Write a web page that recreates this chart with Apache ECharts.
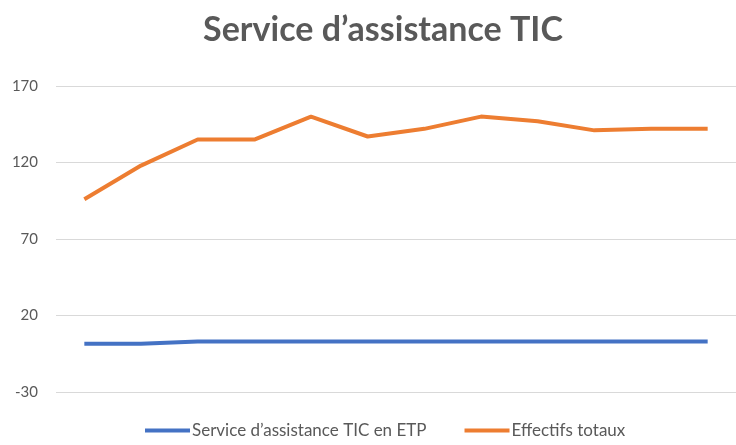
<!DOCTYPE html>
<html>
<head>
<meta charset="utf-8">
<script src="https://cdn.jsdelivr.net/npm/echarts@6/dist/echarts.min.js"></script>
<style>
html,body{margin:0;padding:0;background:#fff;}
#chart{width:736px;height:445px;}
</style>
</head>
<body>
<div id="chart"></div>
<script>
const categories = ['1','2','3','4','5','6','7','8','9','10','11','12'];
const serviceTIC = [1.5, 1.5, 3, 3, 3, 3, 3, 3, 3, 3, 3, 3];
const effectifs = [96, 118, 135, 135, 150, 137, 142, 150, 147, 141, 142, 142];
const seriesNames = ['Service d’assistance TIC en ETP', 'Effectifs totaux'];
const titleText = 'Service d’assistance TIC';

const chart = echarts.init(document.getElementById('chart'));
const font = 'Lato';
chart.setOption({
  animation: false,
  title: {
    text: titleText,
    left: 378,
    textAlign: 'center',
    top: 8,
    textStyle: { fontFamily: font, fontSize: 34, fontWeight: 'bold', color: '#595959' }
  },
  legend: {
    bottom: 1,
    left: 140,
    icon: 'rect',
    itemWidth: 45,
    itemHeight: 4,
    itemGap: 38,
    textStyle: { fontFamily: font, fontSize: 17, color: '#595959', padding: [0,0,0,-3] },
    data: seriesNames
  },
  grid: { left: 56, top: 86, right: -4, height: 306 },
  xAxis: {
    type: 'category',
    data: categories,
    boundaryGap: true,
    axisLine: { show: false },
    axisTick: { show: false },
    axisLabel: { show: false }
  },
  yAxis: {
    type: 'value',
    min: -30,
    max: 170,
    interval: 50,
    axisLine: { show: false },
    axisTick: { show: false },
    axisLabel: { fontFamily: font, fontSize: 15, color: '#595959', margin: 18 },
    splitLine: { lineStyle: { color: '#d9d9d9', width: 1 } }
  },
  series: [
    {
      name: seriesNames[0],
      type: 'line',
      data: serviceTIC,
      symbol: 'none',
      lineStyle: { color: '#4472C4', width: 4 },
      itemStyle: { color: '#4472C4' }
    },
    {
      name: seriesNames[1],
      type: 'line',
      data: effectifs,
      symbol: 'none',
      lineStyle: { color: '#ED7D31', width: 4 },
      itemStyle: { color: '#ED7D31' }
    }
  ]
});
</script>
</body>
</html>
